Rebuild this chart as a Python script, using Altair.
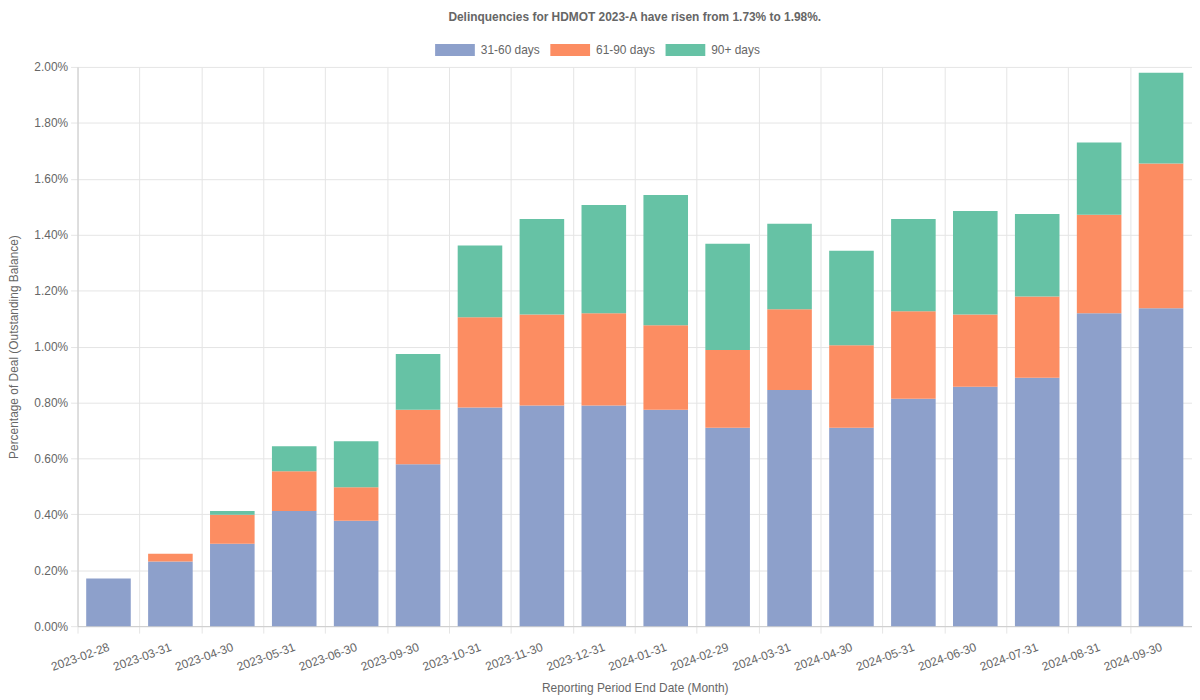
import altair as alt
import pandas as pd

dates = ["2023-02-28", "2023-03-31", "2023-04-30", "2023-05-31", "2023-06-30", "2023-09-30",
         "2023-10-31", "2023-11-30", "2023-12-31", "2024-01-31", "2024-02-29", "2024-03-31",
         "2024-04-30", "2024-05-31", "2024-06-30", "2024-07-31", "2024-08-31", "2024-09-30"]
d31_60 = [0.170, 0.231, 0.295, 0.412, 0.377, 0.579, 0.782, 0.789, 0.789, 0.774, 0.710, 0.845,
          0.710, 0.813, 0.856, 0.888, 1.119, 1.137]
d61_90 = [0.000, 0.028, 0.103, 0.142, 0.120, 0.195, 0.323, 0.326, 0.330, 0.302, 0.278, 0.288,
          0.295, 0.313, 0.259, 0.291, 0.352, 0.518]
d90p = [0.000, 0.000, 0.014, 0.089, 0.164, 0.199, 0.256, 0.341, 0.387, 0.466, 0.380, 0.306,
        0.338, 0.330, 0.370, 0.295, 0.259, 0.324]
series = ["31-60 days", "61-90 days", "90+ days"]
colors = ["#8DA0CB", "#FC8D62", "#66C2A5"]

rows = []
for i, d in enumerate(dates):
    for k, (name, vals) in enumerate(zip(series, [d31_60, d61_90, d90p])):
        rows.append({"date": d, "bucket": name, "value": vals[i], "ord": k})
df = pd.DataFrame(rows)

FONT = "Liberation Sans"
GREY = "#666666"

chart = alt.Chart(df).mark_bar(width=alt.RelativeBandSize(0.72)).encode(
    x=alt.X("date:N", sort=dates,
            scale=alt.Scale(paddingInner=0, paddingOuter=0),
            axis=alt.Axis(title="Reporting Period End Date (Month)", labelAngle=-20,
                          labelAlign="right", labelBaseline="middle", labelPadding=13,
                          tickBand="extent", grid=True, gridColor="#e5e5e5",
                          tickColor="#e5e5e5", tickSize=7, domainColor="#cccccc",
                          titlePadding=10)),
    y=alt.Y("value:Q", stack="zero",
            scale=alt.Scale(domain=[0, 2.0], nice=False),
            axis=alt.Axis(title="Percentage of Deal (Outstanding Balance)", values=[i / 5 for i in range(11)],
                          labelExpr="format(datum.value, '.2f') + '%'", grid=True,
                          gridColor="#e5e5e5", tickColor="#e5e5e5", tickSize=7,
                          domainColor="#cccccc", labelPadding=3, titlePadding=13)),
    color=alt.Color("bucket:N", scale=alt.Scale(domain=series, range=colors),
                    legend=alt.Legend(title=None, orient="none", direction="horizontal",
                                      legendX=360, legendY=-37,
                                      symbolType="M-1,-0.3L1,-0.3L1,0.3L-1,0.3Z",
                                      symbolSize=1600, symbolStrokeWidth=0, symbolOpacity=1,
                                      labelOffset=6, columnPadding=10,
                                      labelFontSize=12, labelColor=GREY, labelFont=FONT)),
    order=alt.Order("ord:Q", sort="ascending"),
).properties(
    width=1122, height=563,
    title=alt.TitleParams("Delinquencies for HDMOT 2023-A have risen from 1.73% to 1.98%.",
                          fontSize=12, fontWeight="bold", color=GREY, font=FONT,
                          anchor="middle", offset=6),
    autosize=alt.AutoSizeParams(type="none"),
    padding={"left": 70, "top": 57, "right": 0, "bottom": 71},
).configure_axis(
    labelFont=FONT, titleFont=FONT, labelFontSize=12, titleFontSize=12,
    labelColor=GREY, titleColor=GREY, titleFontWeight="normal",
).configure_view(stroke=None)

chart.save("out.html", embed_options={"renderer": "svg", "actions": False})
